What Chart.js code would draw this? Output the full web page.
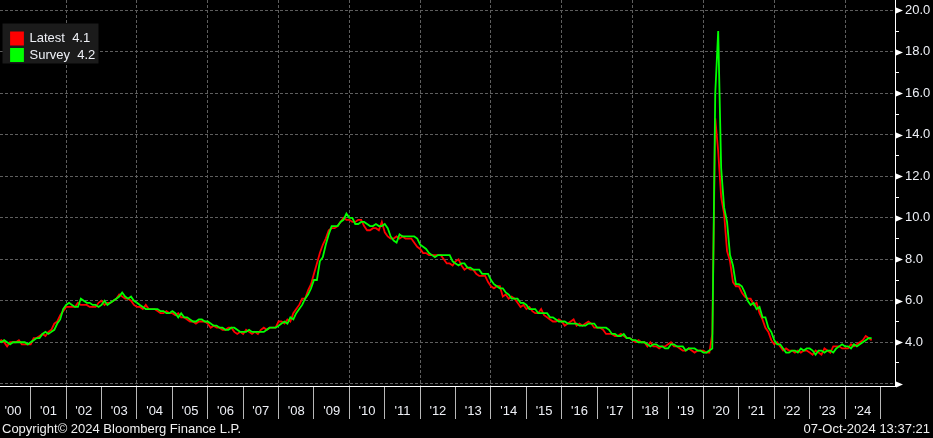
<!DOCTYPE html>
<html>
<head>
<meta charset="utf-8">
<title>US unemployment rate: latest vs survey</title>
<script src="https://cdn.jsdelivr.net/npm/chart.js@4.4.1/dist/chart.umd.min.js"></script>
<style>
  html, body { margin: 0; padding: 0; background: #000; }
  #wrap { position: relative; width: 933px; height: 438px; overflow: hidden; }
  #chart { display: block; background: #000; }
  .foot { position: absolute; top: 421px; font: 13px "Liberation Sans", Arial, sans-serif; color: #f0f0f0; white-space: pre; }
  #copy { left: 2px; }
  #stamp { right: 3px; }
</style>
</head>
<body>
<div id="wrap">
  <canvas id="chart" width="933" height="438"></canvas>
  <div class="foot" id="copy">Copyright© 2024 Bloomberg Finance L.P.</div>
  <div class="foot" id="stamp">07-Oct-2024 13:37:21</div>
</div>
<script>
// monthly series, Jan 2000 .. Sep 2024
const START_YEAR = 2000;

const latest = [
  4.0, 4.1, 4.0, 3.8, 4.0, 4.0, 4.0, 4.1, 3.9, 3.9, 3.9, 3.9,
  4.2, 4.2, 4.3, 4.4, 4.3, 4.5, 4.6, 4.9, 5.0, 5.3, 5.5, 5.7,
  5.7, 5.7, 5.7, 5.9, 5.8, 5.8, 5.8, 5.7, 5.7, 5.7, 5.9, 6.0,
  5.8, 5.9, 5.9, 6.0, 6.1, 6.3, 6.2, 6.1, 6.1, 6.0, 5.8, 5.7,
  5.7, 5.6, 5.8, 5.6, 5.6, 5.6, 5.5, 5.4, 5.4, 5.5, 5.4, 5.4,
  5.3, 5.4, 5.2, 5.2, 5.1, 5.0, 5.0, 4.9, 5.0, 5.0, 5.0, 4.9,
  4.7, 4.8, 4.7, 4.7, 4.6, 4.6, 4.7, 4.7, 4.5, 4.4, 4.5, 4.4,
  4.6, 4.5, 4.4, 4.5, 4.4, 4.6, 4.7, 4.6, 4.7, 4.7, 4.7, 5.0,
  5.0, 4.9, 5.1, 5.0, 5.4, 5.6, 5.8, 6.1, 6.1, 6.5, 6.8, 7.3,
  7.8, 8.3, 8.7, 9.0, 9.4, 9.5, 9.5, 9.6, 9.8, 10.0, 9.9, 9.9,
  9.8, 9.8, 9.9, 9.9, 9.6, 9.4, 9.4, 9.5, 9.5, 9.4, 9.8, 9.3,
  9.1, 9.0, 9.0, 9.1, 9.0, 9.1, 9.0, 9.0, 9.0, 8.8, 8.6, 8.5,
  8.3, 8.3, 8.2, 8.2, 8.2, 8.2, 8.2, 8.0, 7.8, 7.8, 7.7, 7.9,
  8.0, 7.7, 7.5, 7.6, 7.5, 7.5, 7.3, 7.2, 7.2, 7.2, 6.9, 6.7,
  6.6, 6.7, 6.7, 6.2, 6.3, 6.1, 6.2, 6.1, 5.9, 5.7, 5.8, 5.6,
  5.7, 5.5, 5.4, 5.4, 5.6, 5.3, 5.2, 5.1, 5.0, 5.0, 5.1, 5.0,
  4.8, 4.9, 5.0, 5.1, 4.8, 4.9, 4.8, 4.9, 5.0, 4.9, 4.7, 4.7,
  4.7, 4.6, 4.4, 4.4, 4.4, 4.3, 4.3, 4.4, 4.3, 4.2, 4.2, 4.1,
  4.0, 4.1, 4.0, 4.0, 3.8, 4.0, 3.8, 3.8, 3.7, 3.8, 3.8, 3.9,
  4.0, 3.8, 3.8, 3.7, 3.6, 3.6, 3.7, 3.6, 3.5, 3.6, 3.6, 3.6,
  3.5, 3.5, 4.4, 14.8, 13.2, 11.0, 10.2, 8.4, 7.9, 6.9, 6.7, 6.7,
  6.4, 6.2, 6.1, 6.1, 5.8, 5.9, 5.4, 5.1, 4.7, 4.5, 4.1, 3.9,
  4.0, 3.8, 3.6, 3.7, 3.6, 3.6, 3.5, 3.6, 3.5, 3.6, 3.6, 3.5,
  3.4, 3.6, 3.5, 3.4, 3.7, 3.6, 3.5, 3.8, 3.8, 3.8, 3.7, 3.7,
  3.7, 3.9, 3.8, 3.9, 4.0, 4.1, 4.3, 4.2, 4.1,
];

const survey = [
  4.1, 4.0, 4.1, 4.0, 3.9, 4.0, 4.0, 4.0, 4.0, 4.0, 3.9, 4.0,
  4.1, 4.2, 4.2, 4.4, 4.5, 4.4, 4.5, 4.6, 4.9, 5.1, 5.6, 5.8,
  5.9, 5.8, 5.7, 5.7, 6.1, 6.0, 5.9, 5.9, 5.8, 5.8, 5.7, 5.8,
  6.0, 5.8, 5.9, 6.0, 6.1, 6.2, 6.4, 6.2, 6.1, 6.2, 6.0, 5.9,
  5.8, 5.7, 5.6, 5.6, 5.6, 5.6, 5.6, 5.5, 5.5, 5.4, 5.4, 5.5,
  5.4, 5.2, 5.4, 5.2, 5.2, 5.1, 5.0, 5.0, 5.1, 5.1, 5.0, 5.0,
  4.9, 4.8, 4.8, 4.7, 4.7, 4.6, 4.6, 4.7, 4.7, 4.6, 4.5, 4.5,
  4.5, 4.6, 4.5, 4.5, 4.5, 4.5, 4.5, 4.6, 4.7, 4.7, 4.7, 4.8,
  4.9, 5.0, 4.9, 5.2, 5.1, 5.4, 5.6, 5.8, 6.1, 6.3, 6.6, 7.0,
  7.0, 7.9, 8.1, 8.7, 9.2, 9.6, 9.6, 9.6, 9.8, 9.9, 10.2, 10.0,
  10.0, 9.7, 9.7, 9.8, 9.8, 9.7, 9.6, 9.6, 9.7, 9.6, 9.6, 9.7,
  9.5, 9.1, 8.9, 8.8, 9.2, 9.1, 9.1, 9.1, 9.1, 9.1, 9.0, 8.7,
  8.6, 8.5, 8.3, 8.2, 8.1, 8.2, 8.2, 8.2, 8.2, 8.2, 7.9, 7.8,
  7.7, 7.8, 7.8, 7.6, 7.6, 7.5, 7.5, 7.5, 7.3, 7.3, 7.3, 7.0,
  6.8, 6.7, 6.6, 6.6, 6.4, 6.3, 6.1, 6.1, 6.1, 5.9, 5.9, 5.8,
  5.6, 5.6, 5.6, 5.4, 5.4, 5.4, 5.4, 5.2, 5.2, 5.1, 5.0, 5.0,
  5.0, 4.9, 4.9, 4.9, 4.9, 4.8, 4.8, 4.8, 4.9, 4.9, 4.9, 4.7,
  4.7, 4.7, 4.7, 4.6, 4.4, 4.4, 4.3, 4.3, 4.4, 4.2, 4.2, 4.1,
  4.1, 4.0, 4.0, 4.0, 3.9, 3.8, 3.9, 3.9, 3.8, 3.8, 3.7, 3.7,
  3.9, 3.9, 3.8, 3.8, 3.8, 3.6, 3.7, 3.7, 3.7, 3.6, 3.6, 3.5,
  3.5, 3.6, 3.7, 16.0, 19.0, 12.4, 10.5, 9.8, 8.2, 7.7, 6.8, 6.8,
  6.7, 6.4, 6.0, 5.8, 5.9, 5.6, 5.7, 5.2, 5.2, 4.7, 4.5, 4.1,
  3.9, 3.9, 3.7, 3.5, 3.5, 3.6, 3.6, 3.5, 3.7, 3.6, 3.7, 3.7,
  3.6, 3.4, 3.6, 3.6, 3.5, 3.6, 3.6, 3.5, 3.7, 3.8, 3.9, 3.8,
  3.8, 3.7, 3.9, 3.8, 3.9, 4.0, 4.1, 4.2, 4.2,
];

const yearTicks = [2000, 2001, 2002, 2003, 2004, 2005, 2006, 2007, 2008, 2009, 2010, 2011, 2012,
  2013, 2014, 2015, 2016, 2017, 2018, 2019, 2020, 2021, 2022, 2023, 2024, 2025];
const valueTicks = [2, 3, 4, 5, 6, 7, 8, 9, 10, 11, 12, 13, 14, 15, 16, 17, 18, 19, 20];

const X_MIN = 2000.133;
const X_MAX = 2025.41;
const Y_MIN = 1.89;
const Y_MAX = 20.5;

const FONT = { family: '"Liberation Sans", Arial, sans-serif', size: 13 };
const TEXT = '#eef0f6';
const GRID = '#5e5e5e';
const NONE = 'rgba(0,0,0,0)';

// month-end position of each observation
function toPoints(list) {
  return list.map((v, i) => ({ x: START_YEAR + (i + 1) / 12, y: v }));
}

function evenTick(c) {
  return c.type === 'tick' && c.tick && Math.round(c.tick.value) % 2 === 0;
}

// white arrow heads on the value axis at every labelled step
const axisArrows = {
  id: 'axisArrows',
  afterDraw(chart) {
    const y = chart.scales.y;
    const ctx = chart.ctx;
    ctx.save();
    ctx.fillStyle = '#ffffff';
    valueTicks.filter((v) => v % 2 === 0).forEach((v) => {
      const py = Math.round(y.getPixelForValue(v)) + 0.5;
      ctx.beginPath();
      ctx.moveTo(y.left + 1, py - 3);
      ctx.lineTo(y.left + 8, py);
      ctx.lineTo(y.left + 1, py + 3);
      ctx.closePath();
      ctx.fill();
    });
    ctx.restore();
  },
};

// dark panel behind the legend, covering the grid
const legendBox = {
  id: 'legendBox',
  afterLayout(chart) {
    const lg = chart.legend;
    if (!lg) return;
    lg.left = 7.5;
    lg.top = 28.5;
  },
  beforeDatasetsDraw(chart) {
    const lg = chart.legend;
    if (!lg) return;
    const ctx = chart.ctx;
    ctx.save();
    ctx.fillStyle = '#1b1b1b';
    ctx.fillRect(lg.left - 5, lg.top - 5, 96, 40);
    ctx.restore();
    lg.draw();
  },
};

const ctx = document.getElementById('chart').getContext('2d');
new Chart(ctx, {
  type: 'line',
  data: {
    datasets: [
      {
        label: `Latest  ${latest[latest.length - 1].toFixed(1)}`,
        data: toPoints(latest),
        borderColor: '#ff0000',
        backgroundColor: '#ff0000',
        borderWidth: 1.8,
        pointRadius: 0,
        tension: 0,
        order: 1,
      },
      {
        label: `Survey  ${survey[survey.length - 1].toFixed(1)}`,
        data: toPoints(survey),
        borderColor: '#00ff00',
        backgroundColor: '#00ff00',
        borderWidth: 1.8,
        pointRadius: 0,
        tension: 0,
        order: 0,
      },
    ],
  },
  options: {
    responsive: false,
    animation: false,
    devicePixelRatio: 1,
    layout: { padding: 0 },
    events: [],
    plugins: {
      tooltip: { enabled: false },
      legend: {
        position: 'chartArea',
        align: 'start',
        labels: {
          boxWidth: 12,
          boxHeight: 12,
          padding: 3.5,
          color: TEXT,
          font: FONT,
          sort: (a, b) => a.datasetIndex - b.datasetIndex,
        },
      },
    },
    scales: {
      x: {
        type: 'linear',
        position: 'bottom',
        min: X_MIN,
        max: X_MAX,
        afterBuildTicks: (scale) => { scale.ticks = yearTicks.map((v) => ({ value: v })); },
        afterFit: (scale) => {
          scale.height = 52;
          scale.paddingLeft = 0;
          scale.paddingRight = 0;
        },
        grid: {
          color: (c) => (evenTick(c) ? GRID : NONE),
          tickColor: '#b8b8b8',
          tickLength: 33,
          lineWidth: 1,
        },
        border: { display: true, color: '#ffffff', width: 1, dash: [3, 2] },
        ticks: {
          autoSkip: false,
          maxRotation: 0,
          labelOffset: 17.7,
          padding: -15,
          color: TEXT,
          font: FONT,
          callback: (v) => (v >= 2025 ? '' : "'" + String(v).slice(2)),
        },
      },
      y: {
        type: 'linear',
        position: 'right',
        min: Y_MIN,
        max: Y_MAX,
        afterBuildTicks: (scale) => { scale.ticks = valueTicks.map((v) => ({ value: v })); },
        afterFit: (scale) => {
          scale.width = 38;
          scale.paddingTop = 0;
          scale.paddingBottom = 0;
        },
        grid: {
          color: (c) => (evenTick(c) ? GRID : NONE),
          tickColor: '#ffffff',
          tickLength: 4,
          lineWidth: 1,
        },
        border: { display: true, color: '#ffffff', width: 1, dash: [3, 2] },
        ticks: {
          autoSkip: false,
          padding: 6,
          color: TEXT,
          font: FONT,
          callback: (v) => (v % 2 === 0 && v > 2 ? v.toFixed(1) : ''),
        },
      },
    },
  },
  plugins: [axisArrows, legendBox],
});
</script>
</body>
</html>
